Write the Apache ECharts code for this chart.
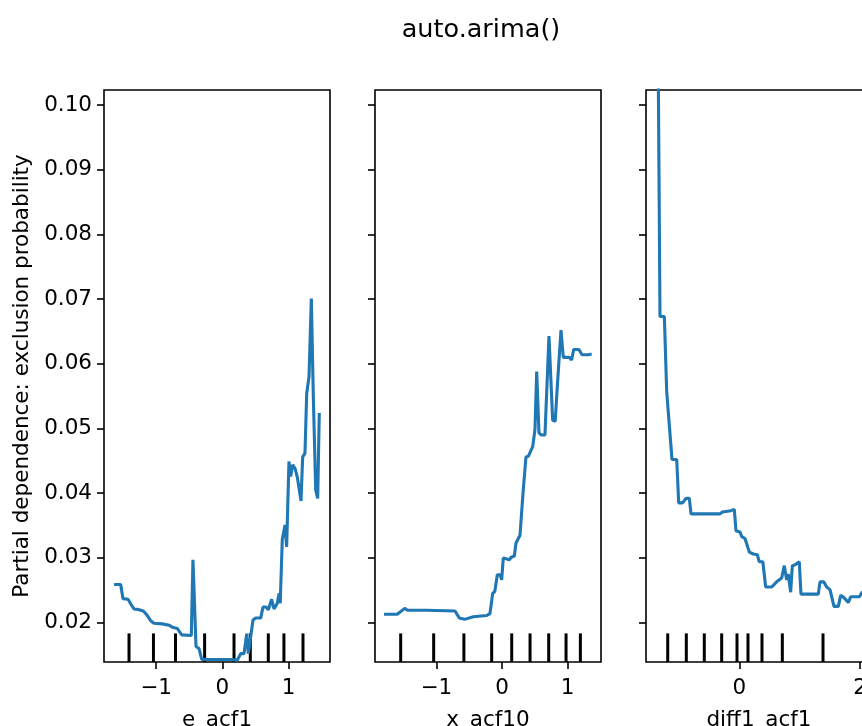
<!DOCTYPE html>
<html>
<head>
<meta charset="utf-8">
<script src="https://cdn.jsdelivr.net/npm/echarts@6/dist/echarts.min.js"></script>
<style>
  html, body { margin: 0; padding: 0; background: #fff; }
  #chart { width: 862px; height: 726px; }
</style>
</head>
<body>
<div id="chart"></div>
<script>
// ---- data ----
const yTicks = [0.02, 0.03, 0.04, 0.05, 0.06, 0.07, 0.08, 0.09, 0.10];
const yRange = [0.01391, 0.10232];

// panel 1: e_acf1
const eAcf1X = [-1.635, -1.535, -1.50, -1.424, -1.384, -1.334, -1.258, -1.193, -1.148, -1.082,
  -1.032, -0.906, -0.805, -0.755, -0.680, -0.613, -0.468, -0.443, -0.397, -0.352, -0.311,
  0.127, 0.227, 0.278, 0.328, 0.369, 0.393, 0.418, 0.464, 0.504, 0.58, 0.615, 0.66, 0.695,
  0.746, 0.781, 0.831, 0.857, 0.875, 0.906, 0.947, 0.972, 1.007, 1.033, 1.063, 1.10, 1.133,
  1.16, 1.189, 1.214, 1.249, 1.275, 1.310, 1.345, 1.375, 1.411, 1.441, 1.465];
const eAcf1Y = [0.0259, 0.0259, 0.0237, 0.0236, 0.0229, 0.0221, 0.0220, 0.0218, 0.0213, 0.0203,
  0.0199, 0.0198, 0.0196, 0.0193, 0.0191, 0.0181, 0.0180, 0.0297, 0.0163, 0.0160, 0.0143,
  0.0143, 0.0142, 0.0152, 0.0152, 0.0183, 0.0152, 0.0152, 0.0204, 0.0207, 0.0207, 0.0224, 0.0224, 0.0220,
  0.0236, 0.0221, 0.0230, 0.0245, 0.0230, 0.0328, 0.0351, 0.0317, 0.0449, 0.0426, 0.0444, 0.0438, 0.0425,
  0.0423, 0.0388, 0.0456, 0.0462, 0.0554, 0.0580, 0.0701, 0.0549, 0.0405, 0.0392, 0.0524];
const eAcf1Deciles = [-1.409, -1.04, -0.707, -0.267, 0.177, 0.423, 0.695, 0.931, 1.219];
const eAcf1Ticks = [-1, 0, 1];

// panel 2: x_acf10
const xAcf10X = [-1.796, -1.594, -1.481, -1.44, -1.147, -0.715, -0.65, -0.57, -0.437, -0.233,
  -0.183, -0.142, -0.11, -0.071, -0.03, -0.005, 0.020, 0.05, 0.111, 0.14, 0.188, 0.213, 0.274,
  0.32, 0.365, 0.40, 0.467, 0.502, 0.528, 0.563, 0.60, 0.654, 0.715, 0.771, 0.81, 0.842, 0.898,
  0.933, 1.024, 1.06, 1.091, 1.172, 1.218, 1.314, 1.365];
const xAcf10Y = [0.0213, 0.0213, 0.0222, 0.0219, 0.0219, 0.0218, 0.0207, 0.0205, 0.0209, 0.0211,
  0.0214, 0.0245, 0.0248, 0.0274, 0.0274, 0.0266, 0.0300, 0.0301, 0.0297, 0.0301, 0.0303, 0.0323, 0.0335,
  0.0400, 0.0456, 0.0457, 0.0472, 0.0498, 0.0588, 0.0493, 0.0490, 0.0490, 0.0643, 0.0513, 0.0511, 0.0565, 0.0652,
  0.0610, 0.0610, 0.0606, 0.0622, 0.0622, 0.0614, 0.0614, 0.0615];
const xAcf10Deciles = [-1.542, -1.04, -0.58, -0.157, 0.148, 0.427, 0.711, 0.975, 1.193];
const xAcf10Ticks = [-1, 0, 1];

// panel 3: diff1_acf1
const diff1Acf1X = [-1.350, -1.314, -1.242, -1.203, -1.18, -1.115, -1.037, -1.004, -0.94, -0.883,
  -0.828, -0.80, -0.320, -0.28, -0.138, -0.083, -0.055, 0.012, 0.04, 0.094, 0.166, 0.232, 0.298,
  0.331, 0.39, 0.437, 0.537, 0.619, 0.702, 0.746, 0.785, 0.81, 0.851, 0.879, 0.92, 0.994, 1.022,
  1.309, 1.337, 1.40, 1.448, 1.503, 1.569, 1.641, 1.68, 1.73, 1.806, 1.846, 1.99, 2.035, 2.1];
const diff1Acf1Y = [0.115, 0.0673, 0.0673, 0.0557, 0.0557, 0.0452, 0.0452, 0.0385, 0.0385, 0.0392,
  0.0392, 0.0368, 0.0368, 0.0371, 0.0373, 0.0375, 0.0342, 0.0340, 0.0333, 0.0330, 0.0309, 0.0306, 0.0305,
  0.0294, 0.0294, 0.0255, 0.0255, 0.0263, 0.0269, 0.0288, 0.0266, 0.0275, 0.0247, 0.0288, 0.0289, 0.0294, 0.0244,
  0.0244, 0.0263, 0.0263, 0.0255, 0.0251, 0.0225, 0.0225, 0.0242, 0.0239, 0.0231, 0.0240, 0.0240, 0.0247, 0.0247];
const diff1Acf1Deciles = [-1.186, -0.878, -0.58, -0.292, -0.038, 0.144, 0.376, 0.713, 1.387];
const diff1Acf1Ticks = [0, 2];

const panels = [
  { name: 'e_acf1', xs: eAcf1X, ys: eAcf1Y, deciles: eAcf1Deciles, ticks: eAcf1Ticks, range: [-1.787, 1.627], left: 104 },
  { name: 'x_acf10', xs: xAcf10X, ys: xAcf10Y, deciles: xAcf10Deciles, ticks: xAcf10Ticks, range: [-1.933, 1.507], left: 375 },
  { name: 'diff1_acf1', xs: diff1Acf1X, ys: diff1Acf1Y, deciles: diff1Acf1Deciles, ticks: diff1Acf1Ticks, range: [-1.546, 2.199], left: 646 }
];

// ---- chart ----
const FONT = 'DejaVu Sans';
const FS = 21.5;
const chart = echarts.init(document.getElementById('chart'));
const rugTop = yRange[0] + 0.05 * (yRange[1] - yRange[0]);

const grids = [], xAxes = [], yAxes = [], series = [];
panels.forEach((p, i) => {
  grids.push({
    left: p.left, top: 90, width: 226, height: 572,
    outerBoundsMode: 'none', containLabel: false,
    show: true, borderColor: '#000', borderWidth: 1.6, backgroundColor: '#fff'
  });
  xAxes.push({
    type: 'value', gridIndex: i, min: p.range[0], max: p.range[1],
    name: p.name, nameLocation: 'middle', nameGap: 47,
    nameTextStyle: { fontFamily: FONT, fontSize: FS, color: '#000' },
    axisLine: { show: false, onZero: false },
    splitLine: { show: false },
    axisTick: { show: true, length: 7, lineStyle: { color: '#000', width: 1.6 }, customValues: p.ticks },
    axisLabel: {
      customValues: p.ticks, margin: 15, color: '#000', fontFamily: FONT, fontSize: FS,
      formatter: v => String(v).replace('-', '\u2212')
    }
  });
  yAxes.push({
    type: 'value', gridIndex: i, min: yRange[0], max: yRange[1],
    name: i === 0 ? 'Partial dependence: exclusion probability' : '',
    nameLocation: 'middle', nameGap: 71, nameRotate: 90,
    nameTextStyle: { fontFamily: FONT, fontSize: FS, color: '#000' },
    axisLine: { show: false, onZero: false },
    splitLine: { show: false },
    axisTick: { show: true, length: 7, lineStyle: { color: '#000', width: 1.6 }, customValues: yTicks },
    axisLabel: {
      show: i === 0, customValues: yTicks, margin: 12, color: '#000', fontFamily: FONT, fontSize: FS,
      formatter: v => v.toFixed(2)
    }
  });
  series.push({
    type: 'line', xAxisIndex: i, yAxisIndex: i,
    data: p.xs.map((x, k) => [x, p.ys[k]]),
    showSymbol: false, clip: true,
    lineStyle: { color: '#1f77b4', width: 3.1 },
    itemStyle: { color: '#1f77b4' }
  });
  // deciles rug
  series.push({
    type: 'custom', xAxisIndex: i, yAxisIndex: i,
    data: p.deciles.map(d => [d, yRange[0]]),
    renderItem: (params, api) => {
      const a = api.coord([api.value(0), yRange[0]]);
      const b = api.coord([api.value(0), rugTop]);
      return {
        type: 'line',
        shape: { x1: a[0], y1: a[1], x2: b[0], y2: b[1] },
        style: { stroke: '#000', lineWidth: 3 }
      };
    }
  });
});

chart.setOption({
  animation: false,
  backgroundColor: '#fff',
  title: {
    text: 'auto.arima()', left: 476, top: 12, textAlign: 'center',
    textStyle: { fontFamily: FONT, fontSize: 25.5, fontWeight: 'normal', color: '#000' }
  },
  grid: grids,
  xAxis: xAxes,
  yAxis: yAxes,
  series: series
});
</script>
</body>
</html>
